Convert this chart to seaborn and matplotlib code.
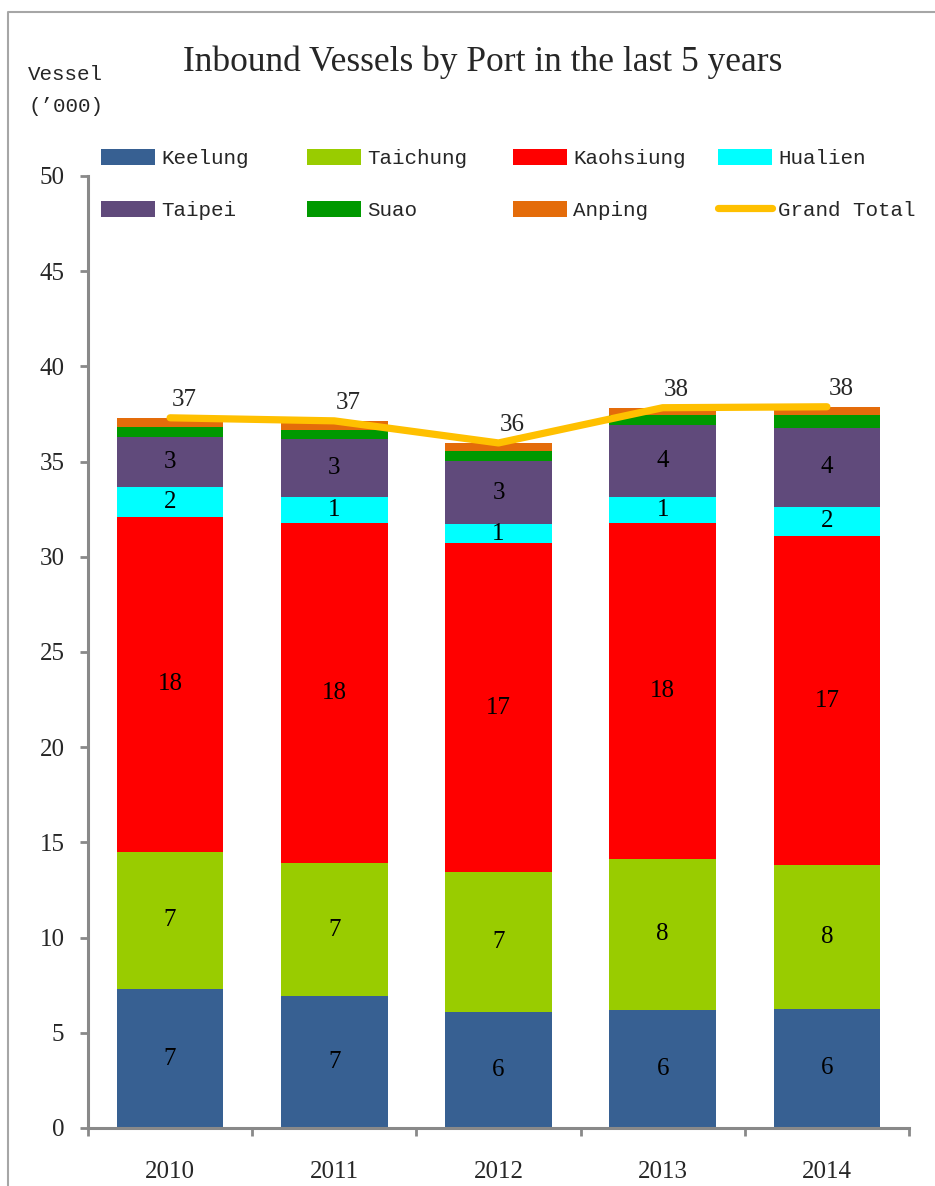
import numpy as np
import matplotlib
matplotlib.use("Agg")
import matplotlib.pyplot as plt
from matplotlib.lines import Line2D
from matplotlib.patches import Patch
import seaborn as sns

years = ["2010", "2011", "2012", "2013", "2014"]
ports = ["Keelung", "Taichung", "Kaohsiung", "Hualien", "Taipei", "Suao", "Anping"]
keelung = [7.30, 6.93, 6.09, 6.20, 6.25]
taichung = [7.20, 6.99, 7.35, 7.93, 7.55]
kaohsiung = [17.60, 17.86, 17.28, 17.65, 17.28]
hualien = [1.58, 1.37, 1.00, 1.37, 1.55]
taipei = [2.62, 3.05, 3.31, 3.78, 4.15]
suao = [0.53, 0.47, 0.53, 0.53, 0.68]
anping = [0.47, 0.47, 0.42, 0.37, 0.42]
series = [keelung, taichung, kaohsiung, hualien, taipei, suao, anping]
labelled = [True, True, True, True, True, False, False]
colors = ["#376092", "#99CC00", "#FF0000", "#00FFFF", "#604A7B", "#009900", "#E46C0A"]
line_color = "#FFC000"
ytick_vals = [0, 5, 10, 15, 20, 25, 30, 35, 40, 45, 50]

sns.set_theme(style="white")
plt.rcParams["font.family"] = ["Liberation Serif", "DejaVu Serif"]
W, H = 935, 1186
fig = plt.figure(figsize=(W / 100, H / 100), dpi=100)
ax = fig.add_axes([88 / W, 1 - 1128 / H, (909 - 88) / W, (1128 - 176) / H])

serif = "Liberation Serif"
mono = "Liberation Mono"

bottom = np.zeros(len(years))
handles = []
for name, vals, col, lab in zip(ports, series, colors, labelled):
    vals = np.array(vals, dtype=float)
    sns.barplot(x=years, y=vals, bottom=bottom, color=col, saturation=1,
                width=0.65, linewidth=0, ax=ax, zorder=2)
    if lab:
        for i, v in enumerate(vals):
            ax.text(i, bottom[i] + v / 2, f"{v:.0f}", ha="center", va="center",
                    fontsize=18, family=serif, color="black", zorder=5)
    bottom = bottom + vals
    handles.append(Patch(facecolor=col, edgecolor="none", label=name))

totals = bottom
xs = np.arange(len(years))
sns.lineplot(x=xs, y=totals, color=line_color, linewidth=5.2, ax=ax,
             solid_capstyle="round", zorder=4)
for i, t in enumerate(totals):
    ax.annotate(f"{t:.0f}", (i, t), xytext=(10, 13), textcoords="offset points",
                ha="center", va="center", fontsize=18, family=serif, zorder=6)
handles.append(Line2D([0], [0], color=line_color, linewidth=5.2,
                      solid_capstyle="round", label="Grand Total"))

ax.set_xlim(-0.5, len(years) - 0.5)
ax.set_ylim(0, 50)
ax.set_yticks(ytick_vals)
ax.set_yticklabels([str(v) for v in ytick_vals], fontsize=18, family=serif)
ax.set_xticks(np.arange(len(years) + 1) - 0.5)
ax.set_xticklabels([""] * (len(years) + 1))
ax.set_xticks(xs, minor=True)
ax.set_xticklabels(years, minor=True, fontsize=18, family=serif)
ax.tick_params(axis="x", which="major", direction="out", length=6, width=2,
               color="#898989", bottom=True)
ax.tick_params(axis="x", which="minor", length=0, pad=24, bottom=True)
ax.tick_params(axis="y", direction="out", length=6, width=2, color="#898989",
               pad=11, left=True)
ax.set_xlabel("")
ax.set_ylabel("")
for s in ["top", "right"]:
    ax.spines[s].set_visible(False)
for s in ["left", "bottom"]:
    ax.spines[s].set_color("#898989")
    ax.spines[s].set_linewidth(2.2)
ax.grid(False)
ax.set_facecolor("white")

# legend: 4 columns x 2 rows
col_x = [101, 307, 513, 718]
order = [(0, 4), (1, 5), (2, 6), (3, 7)]
for cx, (a, b) in zip(col_x, order):
    leg = fig.legend(handles=[handles[a], handles[b]], loc="upper left",
                     bbox_to_anchor=(cx / W, 1 - 149 / H), frameon=False,
                     prop={"family": mono, "size": 15}, handlelength=2.6,
                     handleheight=0.82, handletextpad=0.3, labelspacing=1.55,
                     borderpad=0, borderaxespad=0)

fig.text(483 / W, 1 - 62 / H, "Inbound Vessels by Port in the last 5 years",
         ha="center", va="center", fontsize=25.5, family=serif)
fig.text(28 / W, 1 - 75 / H, "Vessel", ha="left", va="center", fontsize=15, family=mono)
fig.text(28 / W, 1 - 107 / H, "(\u2019000)", ha="left", va="center", fontsize=15, family=mono)

# outer border
fig.add_artist(Line2D([8 / W, 8 / W, 1.0], [0, 1 - 12 / H, 1 - 12 / H],
                      transform=fig.transFigure, color="#a6a6a6", linewidth=1.5))

fig.savefig("out.png", dpi=100, facecolor="white")
